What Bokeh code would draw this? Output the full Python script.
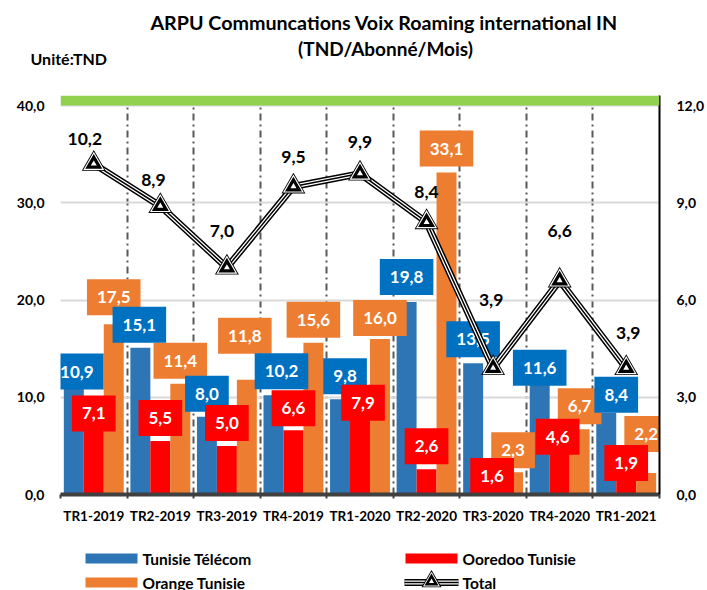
from bokeh.plotting import figure
from bokeh.models import (ColumnDataSource, Range1d, LinearAxis, FixedTicker,
                          CustomJSTickFormatter, BoxAnnotation)
from bokeh.transform import dodge
from bokeh.layouts import column
from bokeh.embed import file_html
from bokeh.resources import INLINE
from bokeh.core.properties import value

# ---------------- data ----------------
categories = ["TR1-2019", "TR2-2019", "TR3-2019", "TR4-2019", "TR1-2020",
              "TR2-2020", "TR3-2020", "TR4-2020", "TR1-2021"]
tunisie_telecom = [10.9, 15.1, 8.0, 10.2, 9.8, 19.8, 13.5, 11.6, 8.4]
ooredoo_tunisie = [7.1, 5.5, 5.0, 6.6, 7.9, 2.6, 1.6, 4.6, 1.9]
orange_tunisie = [17.5, 11.4, 11.8, 15.6, 16.0, 33.1, 2.3, 6.7, 2.2]
total = [10.2, 8.9, 7.0, 9.5, 9.9, 8.4, 3.9, 6.6, 3.9]
left_ticks = [0, 10, 20, 30, 40]
right_ticks = [0, 3, 6, 9, 12]
series_names = ["Tunisie Télécom", "Ooredoo Tunisie", "Orange Tunisie", "Total"]
title_line1 = "ARPU Communcations  Voix Roaming international IN"
title_line2 = "(TND/Abonné/Mois)"
unit_text = "Unité:TND"

# label nudges (screen px) -- style only
tt_dx = [3, -1, 0, 8, 5, 0, 0, 0, 10]
tt_dy = [-17, -23, -23, -24, -23, -25, -24, -14, -18]
oo_dx = [0, 0, 0, 0, 3, 0, -1, -2, 0]
oo_dy = [-12, -23, -23, -22, -15, -23, -3, -13, -13]
og_dx = [0, 0, -2, 0, 0, 0, 0, 0, 0]
og_dy = [-27, -23, -44, -23, -21, -24, -22, -23, -39]
tot_dx = [-9, -7, -5, 0, 0, 0, -2, 0, 2]
tot_dy = [-25, -26, -37, -30, -32, -30, -68, -50, -35]

BLUE, BLUE_BOX, RED, ORANGE, GREEN = "#2E75B6", "#0070C0", "#FF0000", "#ED7D31", "#92D050"
FONT = "Lato"
W = 707

def fmt(v):
    return f"{v:.1f}".replace(".", ",")

n = len(categories)
band = 1.03                       # green band height above 40 (left-axis units)
y_top = left_ticks[-1] + band
y2_top = right_ticks[-1] * y_top / left_ticks[-1]

src = ColumnDataSource(dict(
    x=[i + 0.5 for i in range(n)],
    tt=tunisie_telecom, oo=ooredoo_tunisie, og=orange_tunisie, tot=total,
    tt_lbl=[fmt(v) for v in tunisie_telecom], oo_lbl=[fmt(v) for v in ooredoo_tunisie],
    og_lbl=[fmt(v) for v in orange_tunisie], tot_lbl=[fmt(v) for v in total],
    tt_dx=tt_dx, tt_dy=tt_dy, oo_dx=oo_dx, oo_dy=oo_dy,
    og_dx=og_dx, og_dy=og_dy, tot_dx=tot_dx, tot_dy=tot_dy,
))

def strip(height, y0, y1):
    f = figure(width=W, height=height, x_range=Range1d(0, W), y_range=Range1d(y1, y0),
               output_backend="svg", toolbar_location=None, min_border=0, frame_align=False,
               outline_line_color=None, x_axis_location=None, y_axis_location=None)
    f.grid.visible = False
    return f

# ---------------- title strip ----------------
tf = strip(88, 0, 88)
tf.text(x=[386], y=[22], text=[title_line1], text_font=value(FONT),
        text_font_style="bold", text_font_size="19.7px", text_color="black",
        text_align="center", text_baseline="middle")
tf.text(x=[385], y=[48], text=[title_line2], text_font=value(FONT),
        text_font_style="bold", text_font_size="19px", text_color="black",
        text_align="center", text_baseline="middle")
tf.text(x=[30], y=[58], text=[unit_text], text_font=value(FONT),
        text_font_style="bold", text_font_size="16px", text_color="black",
        text_align="left", text_baseline="middle")

# ---------------- main chart ----------------
p = figure(width=W, height=450, x_range=Range1d(0, n), y_range=Range1d(0, y_top),
           output_backend="svg", toolbar_location=None, frame_align=False,
           min_border_left=60, min_border_right=44, min_border_top=7, min_border_bottom=44,
           outline_line_color=None, background_fill_color="white", border_fill_color="white")
p.extra_y_ranges = {"total": Range1d(0, y2_top)}

# grids
p.ygrid.ticker = FixedTicker(ticks=left_ticks)
p.ygrid.grid_line_color = "#D9D9D9"
p.ygrid.grid_line_width = 2
p.xgrid.ticker = FixedTicker(ticks=list(range(n)))
p.xgrid.grid_line_color = "#595959"
p.xgrid.grid_line_width = 2
p.xgrid.grid_line_dash = "7 4 2 4"

# x axis
xa = p.xaxis[0]
xa.ticker = FixedTicker(ticks=[i + 0.5 for i in range(n)], minor_ticks=list(range(n + 1)))
xa.formatter = CustomJSTickFormatter(args=dict(cats=categories), code="return cats[Math.floor(tick)];")
xa.major_tick_line_color = None
xa.minor_tick_line_color = "#404040"
xa.minor_tick_line_width = 2
xa.minor_tick_in = 0
xa.minor_tick_out = 4
xa.axis_line_color = "#404040"
xa.axis_line_width = 4
xa.major_label_text_font = FONT
xa.major_label_text_font_style = "bold"
xa.major_label_text_font_size = "13.5px"
xa.major_label_text_color = "black"
xa.major_label_standoff = 7

comma_fmt = "return tick.toFixed(1).replace('.', ',');"
ya = p.yaxis[0]
ya.ticker = FixedTicker(ticks=left_ticks)
ya.formatter = CustomJSTickFormatter(code=comma_fmt)
ya.axis_line_color = None
ya.major_tick_line_color = None
ya.minor_tick_line_color = None
ya.major_label_text_font = FONT
ya.major_label_text_font_style = "bold"
ya.major_label_text_font_size = "14px"
ya.major_label_text_color = "black"
ya.major_label_standoff = 10

ra = LinearAxis(y_range_name="total", ticker=FixedTicker(ticks=right_ticks),
                formatter=CustomJSTickFormatter(code=comma_fmt))
ra.axis_line_color = "black"
ra.axis_line_width = 2
ra.major_tick_line_color = None
ra.minor_tick_line_color = None
ra.major_label_text_font = FONT
ra.major_label_text_font_style = "bold"
ra.major_label_text_font_size = "14px"
ra.major_label_text_color = "black"
ra.major_label_standoff = 11
p.add_layout(ra, "right")

# bars
bw = 0.3
p.vbar(x=dodge("x", -bw), top="tt", width=bw, source=src, fill_color=BLUE, line_color=None)
p.vbar(x="x", top="oo", width=bw, source=src, fill_color=RED, line_color=None)
p.vbar(x=dodge("x", bw), top="og", width=bw, source=src, fill_color=ORANGE, line_color=None)

# bar value labels (boxes)
box_kw = dict(source=src, text_font=value(FONT), text_font_style="bold", text_font_size="17px",
              text_color="white", text_align="center", text_baseline="middle",
              padding=dict(x=10, y=12), border_line_color=None)
p.text(x=dodge("x", bw), y="og", text="og_lbl", x_offset="og_dx", y_offset="og_dy",
       background_fill_color=ORANGE, **box_kw)
p.text(x=dodge("x", -bw), y="tt", text="tt_lbl", x_offset="tt_dx", y_offset="tt_dy",
       background_fill_color=BLUE_BOX, **box_kw)
p.text(x="x", y="oo", text="oo_lbl", x_offset="oo_dx", y_offset="oo_dy",
       background_fill_color=RED, **box_kw)

# total line (double line) with triangle markers
for c, w in (("black", 7), ("white", 4), ("black", 1.5)):
    p.line(x="x", y="tot", source=src, y_range_name="total", line_color=c, line_width=w,
           line_join="round")
for c, s in (("black", 24), ("white", 21), ("black", 17), ("white", 6)):
    p.scatter(x="x", y="tot", source=src, y_range_name="total", marker="triangle",
              size=s, fill_color=c, line_color=None)
p.text(x="x", y="tot", text="tot_lbl", x_offset="tot_dx", y_offset="tot_dy", source=src,
       y_range_name="total", text_font=value(FONT), text_font_style="bold",
       text_font_size="17.5px", text_color="black", text_align="center", text_baseline="middle")

# green band on top of plot area
p.add_layout(BoxAnnotation(bottom=left_ticks[-1], top=y_top, fill_color=GREEN,
                           fill_alpha=1.0, line_color=None))

# ---------------- legend strip ----------------
lf = strip(52, 538, 590)
sw_x = [111, 431, 111]
sw_y = [558, 558, 582]
lf.rect(x=sw_x, y=sw_y, width=52, height=10, fill_color=[BLUE, RED, ORANGE], line_color=None)
for c, w in (("black", 7), ("white", 4), ("black", 1.5)):
    lf.line(x=[404, 458], y=[582, 582], line_color=c, line_width=w)
for c, s in (("black", 20), ("white", 17), ("black", 14), ("white", 5)):
    lf.scatter(x=[431], y=[581], marker="triangle", size=s, fill_color=c, line_color=None)
lf.text(x=[142, 462, 142, 462], y=[558, 558, 582, 582], text=series_names,
        text_font=value(FONT), text_font_style="bold", text_font_size="15.5px",
        text_color="black", text_align="left", text_baseline="middle")

layout = column(tf, p, lf, spacing=0)
open("out.html", "w").write(file_html(layout, INLINE))
